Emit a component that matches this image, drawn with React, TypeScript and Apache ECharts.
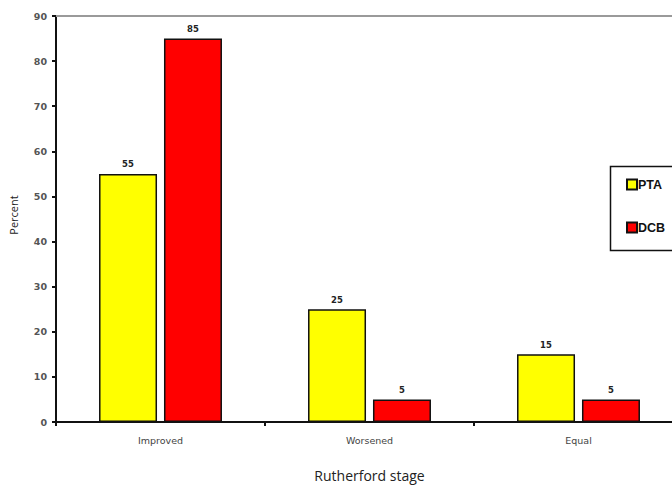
import React, { useEffect, useRef } from "react";
import * as echarts from "echarts";

const categories = ["Improved", "Worsened", "Equal"];
const ptaValues = [55, 25, 15];
const dcbValues = [85, 5, 5];
const yTicks = [0, 10, 20, 30, 40, 50, 60, 70, 80, 90];

const tickFont = "DejaVu Sans";

export default function App() {
  const ref = useRef<HTMLDivElement>(null);

  useEffect(() => {
    if (!ref.current) return;
    const chart = echarts.init(ref.current, null, { renderer: "svg" });
    const labelStyle = {
      show: true,
      position: "top" as const,
      distance: 5,
      fontSize: 8.5,
      fontWeight: "bold" as const,
      fontFamily: tickFont,
      color: "#222",
    };
    chart.setOption({
      animation: false,
      backgroundColor: "#ffffff",
      grid: { left: 56, top: 16, width: 627, bottom: 63, containLabel: false, outerBoundsMode: "none" },
      // frame around the legend, running off the right edge
      graphic: [
        {
          type: "rect",
          left: 608,
          top: 164,
          shape: { width: 90, height: 84 },
          style: { fill: "none", stroke: "#111", lineWidth: 1.5 },
          z: 10,
        },
      ],
      legend: {
        orient: "vertical",
        left: 608,
        top: 164,
        padding: [14, 10, 19, 18],
        itemGap: 30,
        itemWidth: 10,
        itemHeight: 10,
        icon: "rect",
        textStyle: {
          fontSize: 12.5,
          fontWeight: "bold",
          fontFamily: "Liberation Sans",
          color: "#111",
          padding: [0, 0, 0, -4],
        },
        data: ["PTA", "DCB"],
      },
      xAxis: [
        {
          type: "category",
          data: categories,
          name: "Rutherford stage",
          nameLocation: "middle",
          nameGap: 46,
          nameTextStyle: { fontSize: 14, fontFamily: "Open Sans", color: "#222" },
          axisLine: { lineStyle: { color: "#111", width: 2 } },
          axisTick: { show: true, alignWithLabel: false, length: 4, lineStyle: { color: "#111", width: 2 } },
          axisLabel: { fontSize: 9.5, fontFamily: tickFont, color: "#444", margin: 13 },
        },
        {
          type: "category",
          position: "top",
          data: categories,
          axisLine: { lineStyle: { color: "#9a9a9a", width: 2 } },
          axisTick: { show: false },
          axisLabel: { show: false },
        },
      ],
      yAxis: {
        type: "value",
        min: 0,
        max: 90,
        interval: 10,
        name: "Percent",
        nameLocation: "middle",
        nameGap: 37,
        nameTextStyle: { fontSize: 11, fontFamily: "Open Sans", color: "#222", padding: [0, 0, 0, 8] },
        axisLine: { show: true, lineStyle: { color: "#111", width: 2 } },
        axisTick: { show: true, length: 4, lineStyle: { color: "#111", width: 2 } },
        axisLabel: {
          fontSize: 9.5,
          fontWeight: "bold",
          fontFamily: tickFont,
          color: "#555",
          margin: 9,
          formatter: (v: number) => (yTicks.includes(v) ? String(v) : ""),
        },
        splitLine: { show: false },
      },
      series: [
        {
          name: "PTA",
          type: "bar",
          data: ptaValues,
          barWidth: 58,
          barGap: "12%",
          itemStyle: { color: "#ffff00", borderColor: "#111", borderWidth: 1.5 },
          label: labelStyle,
        },
        {
          name: "DCB",
          type: "bar",
          data: dcbValues,
          barWidth: 58,
          barGap: "12%",
          itemStyle: { color: "#ff0000", borderColor: "#111", borderWidth: 1.5 },
          label: labelStyle,
        },
      ],
    });
    return () => chart.dispose();
  }, []);

  return <div ref={ref} style={{ position: "absolute", left: 0, top: 0, width: 672, height: 485 }} />;
}
